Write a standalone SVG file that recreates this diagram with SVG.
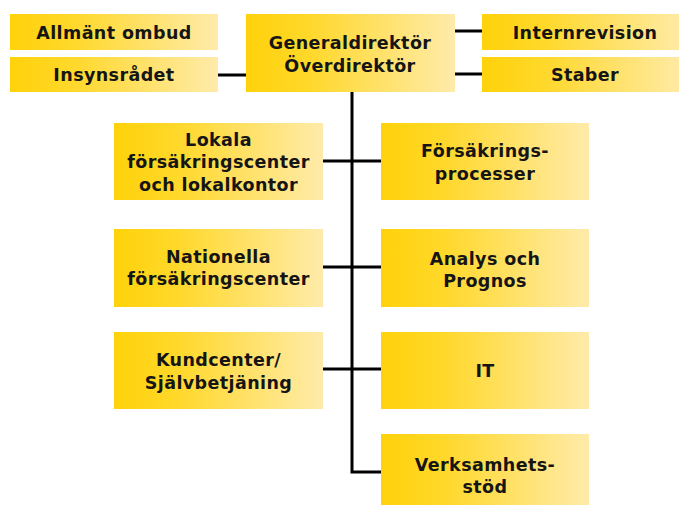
<svg xmlns="http://www.w3.org/2000/svg" width="679" height="505" viewBox="0 0 679 505">
  <defs>
    <linearGradient id="fill" x1="0" y1="0" x2="1" y2="0">
      <stop offset="0" stop-color="#FFD20A"/>
      <stop offset="0.3" stop-color="#FFD82A"/>
      <stop offset="1" stop-color="#FFEBAA"/>
    </linearGradient>
    <style>
      .box { fill: url(#fill); }
      .lbl { font-family: "DejaVu Sans", "Liberation Sans", sans-serif; font-weight: bold; font-size: 17.5px; letter-spacing: 0.4px; fill: #151515; text-anchor: middle; }
      .wire { stroke: #000; stroke-width: 3; fill: none; }
    </style>
  </defs>
  <rect width="679" height="505" fill="#fff"/>

  <g id="connectors">
    <line class="wire" x1="218" y1="75" x2="246" y2="75"/>
    <line class="wire" x1="455" y1="31" x2="482" y2="31"/>
    <line class="wire" x1="455" y1="74" x2="482" y2="74"/>
    <polyline class="wire" points="352,92 352,472 381,472"/>
    <line class="wire" x1="323" y1="161" x2="381" y2="161"/>
    <line class="wire" x1="323" y1="267" x2="381" y2="267"/>
    <line class="wire" x1="323" y1="369" x2="381" y2="369"/>
  </g>

  <g id="allmant-ombud">
    <rect class="box" x="10" y="14" width="208" height="36"/>
    <text class="lbl" x="114" y="39">Allmänt ombud</text>
  </g>
  <g id="insynsradet">
    <rect class="box" x="10" y="57" width="208" height="35"/>
    <text class="lbl" x="114" y="81">Insynsrådet</text>
  </g>
  <g id="generaldirektor">
    <rect class="box" x="246" y="14" width="209" height="78"/>
    <text class="lbl" x="350" y="49">Generaldirektör</text>
    <text class="lbl" x="350" y="72">Överdirektör</text>
  </g>
  <g id="internrevision">
    <rect class="box" x="482" y="14" width="206" height="36"/>
    <text class="lbl" x="585" y="39">Internrevision</text>
  </g>
  <g id="staber">
    <rect class="box" x="482" y="57" width="206" height="35"/>
    <text class="lbl" x="585" y="81">Staber</text>
  </g>

  <g id="lokala">
    <rect class="box" x="114" y="123" width="209" height="77"/>
    <text class="lbl" x="218.5" y="146">Lokala</text>
    <text class="lbl" x="218.5" y="168">försäkringscenter</text>
    <text class="lbl" x="218.5" y="191">och lokalkontor</text>
  </g>
  <g id="nationella">
    <rect class="box" x="114" y="229" width="209" height="78"/>
    <text class="lbl" x="218.5" y="263">Nationella</text>
    <text class="lbl" x="218.5" y="285">försäkringscenter</text>
  </g>
  <g id="kundcenter">
    <rect class="box" x="114" y="332" width="209" height="77"/>
    <text class="lbl" x="218.5" y="366">Kundcenter/</text>
    <text class="lbl" x="218.5" y="389">Självbetjäning</text>
  </g>

  <g id="forsakringsprocesser">
    <rect class="box" x="381" y="123" width="208" height="77"/>
    <text class="lbl" x="485" y="157">Försäkrings-</text>
    <text class="lbl" x="485" y="180">processer</text>
  </g>
  <g id="analys">
    <rect class="box" x="381" y="229" width="208" height="78"/>
    <text class="lbl" x="485" y="265">Analys och</text>
    <text class="lbl" x="485" y="287">Prognos</text>
  </g>
  <g id="it">
    <rect class="box" x="381" y="332" width="208" height="77"/>
    <text class="lbl" x="485" y="377">IT</text>
  </g>
  <g id="verksamhetsstod">
    <rect class="box" x="381" y="434" width="208" height="77"/>
    <text class="lbl" x="485" y="471">Verksamhets-</text>
    <text class="lbl" x="485" y="493">stöd</text>
  </g>
</svg>
